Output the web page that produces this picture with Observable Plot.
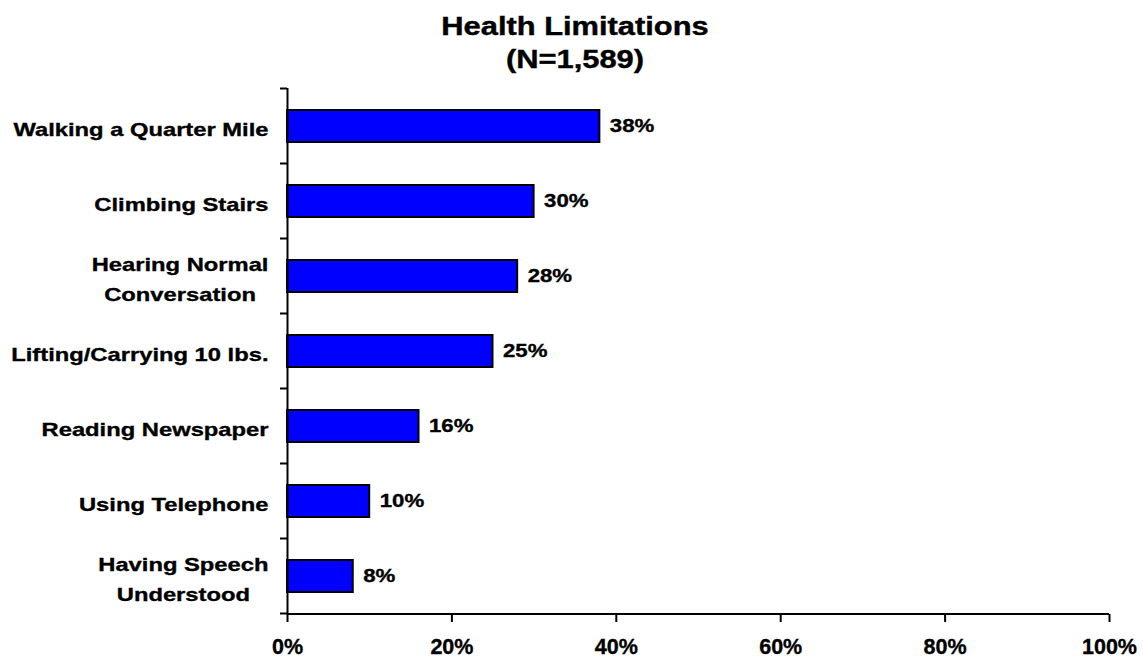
<!DOCTYPE html>
<html>
<head>
<meta charset="utf-8">
<script src="https://cdn.jsdelivr.net/npm/d3@7"></script>
<script src="https://cdn.jsdelivr.net/npm/@observablehq/plot@0.6"></script>
<style>
  body { margin: 0; background: #fff; font-family: "Liberation Sans", Arial, sans-serif; }
  #title {
    height: 80px; box-sizing: border-box; padding: 10px 0 0 7px;
    text-align: center; font-weight: bold; font-size: 25.5px; line-height: 33px; color: #000;
    -webkit-text-stroke: 0.4px #000;
  }
  #title div { transform: scaleX(1.21); }
  #chart svg text { stroke: #000; stroke-width: 0.35px; }
</style>
</head>
<body>
<div id="title"><div>Health Limitations</div><div>(N=1,589)</div></div>
<div id="chart"></div>
<script>
// Share of respondents reporting each limitation (%)
const categories = [
  "Walking a Quarter Mile",
  "Climbing Stairs",
  "Hearing Normal Conversation",
  "Lifting/Carrying 10 lbs.",
  "Reading Newspaper",
  "Using Telephone",
  "Having Speech Understood"
];
const percents = [38, 30, 28, 25, 16, 10, 8];
const xTicks = [0, 20, 40, 60, 80, 100];
// Long category names are split over two lines
const labelLines = {
  "Hearing Normal Conversation": ["Hearing Normal", "Conversation"],
  "Having Speech Understood": ["Having Speech", "Understood"]
};

const rows = categories.map((c, i) => ({category: c, pct: percents[i]}));
const FONT = '"Liberation Sans", Arial, sans-serif';

// Category tick marks sit on the band edges, plus the bottom axis line
function axisFrame(index, scales, values, dimensions) {
  const y = scales.y;
  const bw = y.bandwidth ? y.bandwidth() : 0;
  const step = y.step ? y.step() : (y(categories[1]) - y(categories[0]));
  const edges = categories.map(c => y(c) + bw / 2 - step / 2);
  edges.push(y(categories[categories.length - 1]) + bw / 2 + step / 2);
  const {marginLeft, marginRight, marginBottom, width, height} = dimensions;
  const g = d3.create("svg:g").attr("stroke", "#000").attr("stroke-width", 2);
  g.selectAll("line.edge").data(edges).join("line")
    .attr("class", "edge")
    .attr("x1", marginLeft - 7).attr("x2", marginLeft)
    .attr("y1", d => d).attr("y2", d => d);
  g.append("line")
    .attr("x1", marginLeft).attr("x2", width - marginRight)
    .attr("y1", height - marginBottom).attr("y2", height - marginBottom);
  return g.node();
}

const chart = Plot.plot({
  width: 1143,
  height: 581,
  marginLeft: 287,
  marginRight: 34,
  marginTop: 8,
  marginBottom: 47,
  style: {fontFamily: FONT, fontSize: "18.5px", fontWeight: "bold", color: "#000", background: "#fff", overflow: "visible"},
  x: {domain: [0, 100]},
  y: {domain: categories, paddingInner: 0.58, paddingOuter: 0.29},
  marks: [
    Plot.barX(rows, {x: "pct", y: "category", fill: "#0000ff", stroke: "#000", strokeWidth: 2}),
    Plot.text(rows, {x: "pct", y: "category", text: d => d.pct + "%", textAnchor: "start", dx: 10,
      fontSize: 18.5, fontWeight: "bold", fill: "#000", className: "wide"}),
    Plot.axisX({ticks: xTicks, tickFormat: d => d + "%", tickSize: 8, tickPadding: 16,
      stroke: "#000", strokeWidth: 2, fontSize: 21.5, fontWeight: "bold", label: null}),
    Plot.axisY({tickSize: 0, tickPadding: 19, tickFormat: d => (labelLines[d] || [d]).join("\n"),
      lineHeight: 1.55, fontSize: 19, fontWeight: "bold", label: null, className: "wider"}),
    Plot.ruleX([0], {stroke: "#000", strokeWidth: 2}),
    axisFrame
  ]
});

document.getElementById("chart").append(chart);

// Widen the bold lettering horizontally; centre the lines of two-line labels
function widen(selector, sx) {
  chart.querySelectorAll(selector).forEach(t => {
    const spans = t.querySelectorAll("tspan");
    let extra = "";
    if (spans.length > 1) {
      const w = d3.max(Array.from(spans), s => s.getComputedTextLength());
      t.setAttribute("text-anchor", "middle");
      extra = ` translate(${-w / 2},0)`;
    }
    const x = +t.getAttribute("x") || 0;
    const tr = t.getAttribute("transform") || "";
    t.setAttribute("transform", `${tr} translate(${x},0) scale(${sx},1) translate(${-x},0)${extra}`);
  });
}
widen(".wide text", 1.2);
widen(".wider text", 1.25);
</script>
</body>
</html>
